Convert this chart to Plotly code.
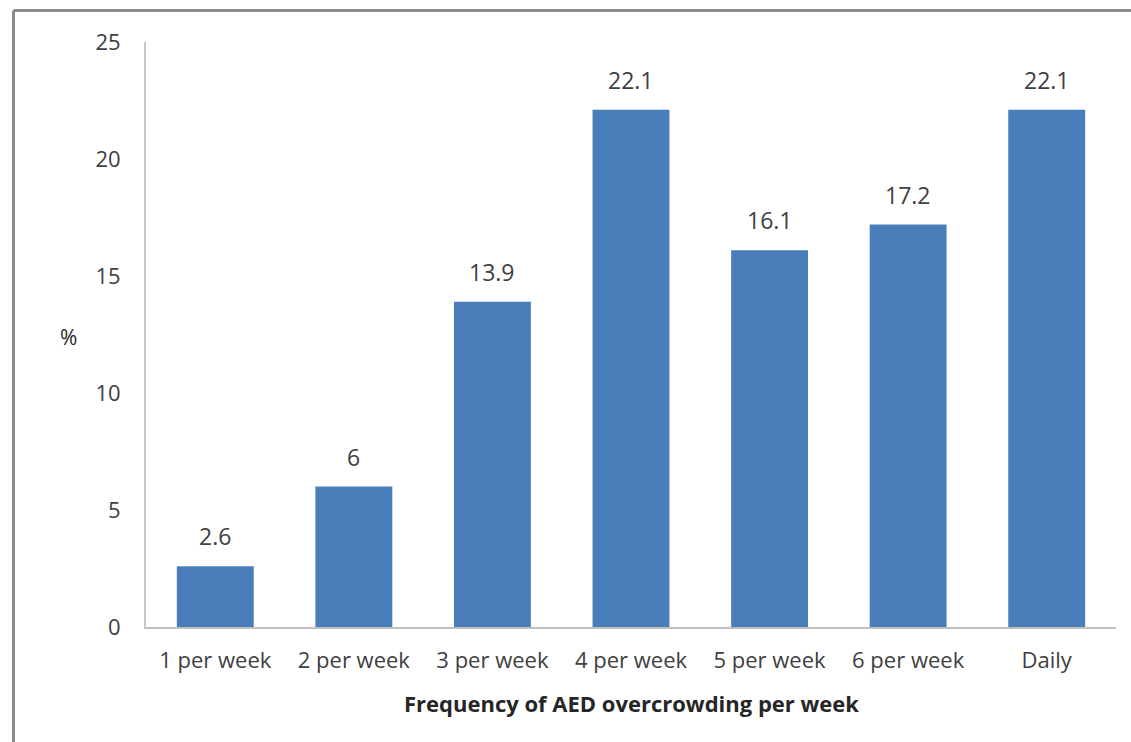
import plotly.graph_objects as go

categories = ["1 per week", "2 per week", "3 per week", "4 per week",
              "5 per week", "6 per week", "Daily"]
percent = [2.6, 6, 13.9, 22.1, 16.1, 17.2, 22.1]
y_ticks = [0, 5, 10, 15, 20, 25]

W, H = 1131, 742
M_L, M_R, M_T, M_B = 146, 15, 42, 115
PW, PH = W - M_L - M_R, H - M_T - M_B


def px_x(x):
    return (x - M_L) / PW


def px_y(y):
    return (H - M_B - y) / PH


FONT = "'Open Sans', sans-serif"
TXT = "#404040"

fig = go.Figure(
    go.Bar(
        x=categories,
        y=percent,
        marker=dict(color="#4A7EBB", line=dict(width=0)),
        width=0.555,
        hoverinfo="x+y",
    )
)

# value labels above each bar
for cat, val in zip(categories, percent):
    fig.add_annotation(
        x=cat, y=val, xref="x", yref="y",
        text=f"{val:g}", showarrow=False,
        xanchor="center", yanchor="bottom", yshift=12,
        font=dict(family=FONT, size=23, color=TXT),
    )

fig.update_layout(
    width=W,
    height=H,
    margin=dict(l=M_L, r=M_R, t=M_T, b=M_B),
    paper_bgcolor="white",
    plot_bgcolor="white",
    showlegend=False,
    font=dict(family=FONT, color=TXT),
)

fig.update_xaxes(
    showline=True,
    linecolor="#BFBFBF",
    linewidth=2,
    showgrid=False,
    ticks="",
    tickfont=dict(family=FONT, size=22, color=TXT),
    ticklabelstandoff=13,
)

fig.update_yaxes(
    range=[0, 25],
    tickvals=y_ticks,
    showline=True,
    linecolor="#C8C8C8",
    linewidth=2,
    showgrid=False,
    zeroline=False,
    ticks="",
    tickfont=dict(family=FONT, size=22, color=TXT),
    ticklabelstandoff=19,
)

# axis titles
fig.add_annotation(
    text="%", x=px_x(68), y=px_y(337), xref="paper", yref="paper",
    xanchor="center", yanchor="middle",
    showarrow=False, font=dict(family=FONT, size=21, color="#262626"),
)
fig.add_annotation(
    text="<b>Frequency of AED overcrowding per week</b>",
    x=px_x(631), y=px_y(703), xref="paper", yref="paper",
    xanchor="center", yanchor="middle",
    showarrow=False, font=dict(family=FONT, size=22, color="#262626"),
)

# outer frame (top and left edges)
frame = dict(color="#8C8C8C", width=3)
fig.add_shape(type="line", xref="paper", yref="paper",
              x0=px_x(13.5), x1=px_x(W), y0=px_y(10.5), y1=px_y(10.5), line=frame)
fig.add_shape(type="line", xref="paper", yref="paper",
              x0=px_x(13.5), x1=px_x(13.5), y0=px_y(10.5), y1=px_y(H), line=frame)

fig.write_html("out.html")
